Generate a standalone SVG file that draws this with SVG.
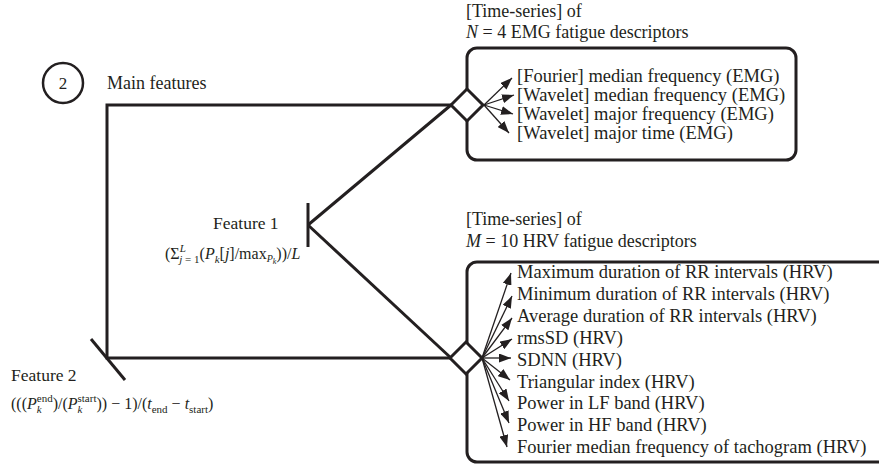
<svg xmlns="http://www.w3.org/2000/svg" width="879" height="466" viewBox="0 0 879 466">
<style>
text{font-family:"Liberation Serif","Times New Roman",serif;fill:#231f20}
.lbl{font-size:18px}
.item{font-size:18.5px}
.fm{font-size:16px}
.s{font-size:11px}
.i{font-style:italic}
.thick{fill:none;stroke:#231f20;stroke-width:3;stroke-linejoin:miter}
.arr{stroke:#231f20;stroke-width:1.3;fill:none;marker-end:url(#ah)}
.box{fill:none;stroke:#231f20;stroke-width:3}
.dia{fill:#fff;stroke:#231f20;stroke-width:3;stroke-linejoin:miter}
</style>
<defs>
<marker id="ah" markerUnits="userSpaceOnUse" markerWidth="12" markerHeight="9" refX="12" refY="4.5" orient="auto">
<path d="M0,0 L12,4.5 L0,9 z" fill="#231f20"/>
</marker>
</defs>
<rect width="879" height="466" fill="#fff"/>

<g id="title">
<circle cx="63" cy="83" r="20" fill="none" stroke="#231f20" stroke-width="2.5"/>
<text x="63" y="89" text-anchor="middle" style="font-size:17px">2</text>
<text x="107" y="89" style="font-size:18px">Main features</text>
</g>

<g id="emg-box">
<text class="lbl" x="466" y="17">[Time-series] of</text>
<text class="lbl" x="466" y="38"><tspan class="i">N</tspan> = 4 EMG fatigue descriptors</text>
<rect class="box" x="467" y="48" width="329" height="112" rx="10"/>
<text class="item" x="517" y="82">[Fourier] median frequency (EMG)</text>
<text class="item" x="517" y="101">[Wavelet] median frequency (EMG)</text>
<text class="item" x="517" y="120">[Wavelet] major frequency (EMG)</text>
<text class="item" x="517" y="139">[Wavelet] major time (EMG)</text>
</g>

<g id="hrv-box">
<text class="lbl" x="466" y="225">[Time-series] of</text>
<text class="lbl" x="466" y="247"><tspan class="i">M</tspan> = 10 HRV fatigue descriptors</text>
<rect class="box" x="467" y="262" width="430" height="200" rx="10"/>
<text class="item" x="517" y="278">Maximum duration of RR intervals (HRV)</text>
<text class="item" x="517" y="299.9">Minimum duration of RR intervals (HRV)</text>
<text class="item" x="517" y="321.8">Average duration of RR intervals (HRV)</text>
<text class="item" x="517" y="343.7">rmsSD (HRV)</text>
<text class="item" x="517" y="365.6">SDNN (HRV)</text>
<text class="item" x="517" y="387.5">Triangular index (HRV)</text>
<text class="item" x="517" y="409.4">Power in LF band (HRV)</text>
<text class="item" x="517" y="431.3">Power in HF band (HRV)</text>
<text class="item" x="517" y="453.2">Fourier median frequency of tachogram (HRV)</text>
</g>

<g id="connectors">
<polyline class="thick" points="451,105 107,105 107,358 451,358"/>
<line class="thick" x1="308" y1="225" x2="451" y2="105"/>
<line class="thick" x1="308" y1="225" x2="451" y2="358"/>
<line class="arr" x1="484" y1="105" x2="512" y2="78"/>
<line class="arr" x1="484" y1="105" x2="514" y2="95"/>
<line class="arr" x1="484" y1="105" x2="513" y2="114"/>
<line class="arr" x1="484" y1="105" x2="509" y2="133"/>
<line class="arr" x1="482" y1="358" x2="511" y2="273"/>
<line class="arr" x1="482" y1="358" x2="512" y2="296"/>
<line class="arr" x1="482" y1="358" x2="512" y2="318"/>
<line class="arr" x1="482" y1="358" x2="512" y2="339"/>
<line class="arr" x1="482" y1="358" x2="511" y2="358"/>
<line class="arr" x1="482" y1="358" x2="510" y2="380"/>
<line class="arr" x1="482" y1="358" x2="509" y2="401"/>
<line class="arr" x1="482" y1="358" x2="509" y2="423"/>
<line class="arr" x1="482" y1="358" x2="507" y2="447"/>
</g>

<g id="emg-diamond"><polygon class="dia" points="451,105 467,89 483,105 467,121"/></g>
<g id="hrv-diamond"><polygon class="dia" points="450,358 466,342 482,358 466,374"/></g>

<g id="feature1">
<line class="thick" x1="308" y1="203" x2="308" y2="247"/>
<text x="213" y="229" style="font-size:17.5px">Feature 1</text>
<text class="fm" x="165" y="259">(Σ<tspan class="s i" dy="-7">L</tspan><tspan class="s" dx="-6.5" dy="11"><tspan class="i">j</tspan> = 1</tspan><tspan dy="-4">(</tspan><tspan class="i">P</tspan><tspan class="s i" dy="4">k</tspan><tspan dy="-4">[</tspan><tspan class="i">j</tspan>]/max<tspan class="i" style="font-size:10px" dy="3">P</tspan><tspan class="i" style="font-size:8px" dy="2">k</tspan><tspan dy="-5">))/</tspan><tspan class="i">L</tspan></text>
</g>

<g id="feature2">
<line class="thick" x1="91" y1="339" x2="125" y2="380"/>
<text x="11" y="381" style="font-size:17.5px">Feature 2</text>
<text class="fm" x="11" y="409">(((<tspan class="i">P</tspan><tspan class="s i" dy="4">k</tspan><tspan class="s" dx="-4.9" dy="-11">end</tspan><tspan dy="7">)/(</tspan><tspan class="i">P</tspan><tspan class="s i" dy="4">k</tspan><tspan class="s" dx="-4.9" dy="-11">start</tspan><tspan dy="7">)) − 1)/(</tspan><tspan class="i">t</tspan><tspan class="s" dy="4">end</tspan><tspan dy="-4"> − </tspan><tspan class="i">t</tspan><tspan class="s" dy="4">start</tspan><tspan dy="-4">)</tspan></text>
</g>
</svg>
